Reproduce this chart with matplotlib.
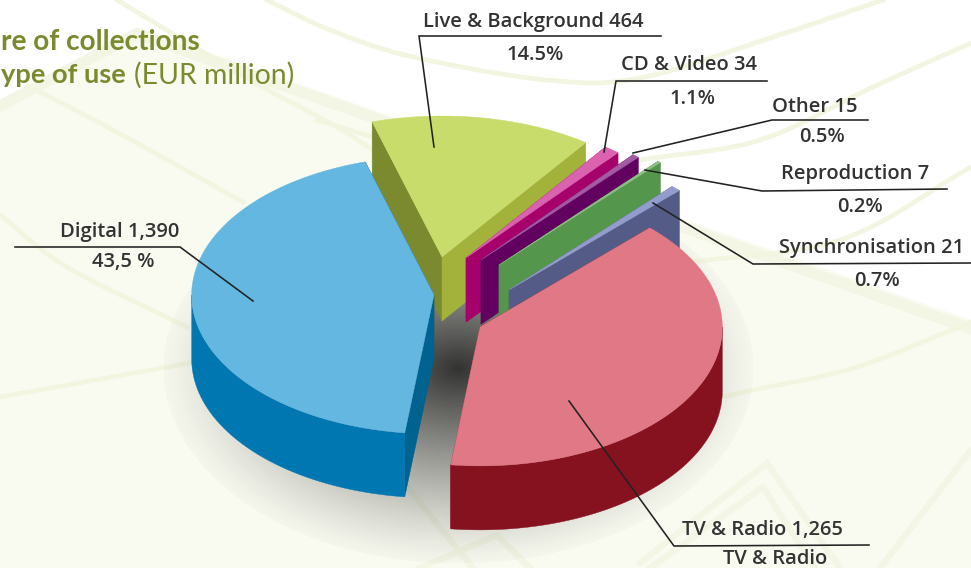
import numpy as np
import matplotlib
matplotlib.use("Agg")
import matplotlib.pyplot as plt
from matplotlib.patches import Polygon

# data
categories = ["Live & Background", "CD & Video", "Other", "Reproduction",
              "Synchronisation", "TV & Radio", "Digital"]
values = [464, 34, 15, 7, 21, 1265, 1390]
name_labels = ["Live & Background 464", "CD & Video 34", "Other 15", "Reproduction 7",
               "Synchronisation 21", "TV & Radio 1,265", "Digital 1,390"]
share_labels = ["14.5%", "1.1%", "0.5%", "0.2%", "0.7%", "TV & Radio", "43,5 %"]

# colours per slice: top, right cut / wall, left cut
top_colors = ["#C8DC6B", "#DB62AE", "#A35AA3", "#8FBF85", "#929DCD", "#E07985", "#63B7E1"]
side_colors = ["#A3B23B", "#A6006B", "#620060", "#54974C", "#535B86", "#86121F", "#0077B1"]
cut_colors = ["#7C8A2F", "#A6006B", "#620060", "#54974C", "#535B86", "#86121F", "#00628F"]

# layout, in pixels of the 971x568 picture
RX, RY, DEPTH = 246, 141, 64
START = -16.5
apex = [(442, 257), (466, 258), (481, 260), (499, 265), (509, 290), (480, 327), (434, 295)]
scale = [1, 0.97, 0.97, 0.98, 0.99, 0.985, 0.985]

# label: text x, name y, share x, share y, rule start, rule end, leader target
label_pos = [
    (533, 22.5, 535, 54.5, (661, 36), (419, 36), (434, 147)),
    (689, 65.5, 692, 98.5, (767, 81), (616, 81), (604, 152)),
    (815, 106.5, 822, 137.5, (868, 120), (772, 120), (633, 153)),
    (855, 174.5, 860, 206.5, (947, 189), (762, 191), (645, 170)),
    (872, 248.5, 877, 280.5, (971, 263), (753, 264), (653, 203)),
    (762, 530.5, 775, 559, (869, 545), (674, 546), (569, 401)),
    (120, 231.5, 123, 262.5, (15, 247), (180, 247), (253, 301)),
]

# pale background curves
curves = [
    [(267, 0), (330, 30), (413, 57), (547, 80), (640, 78), (773, 37), (883, 0)],
    [(117, 0), (250, 80), (330, 123), (373, 150)],
    [(317, 120), (373, 137)],
    [(28, 86), (113, 130), (243, 202)],
    [(0, 215), (67, 267), (187, 327)],
    [(0, 397), (190, 363)],
    [(722, 397), (753, 390), (857, 367), (971, 322)],
    [(640, 160), (760, 140), (873, 87), (971, 43)],
    [(683, 263), (840, 240), (971, 167)],
]
chevrons = [
    [(640, 563), (767, 463), (840, 568)],
    [(650, 568), (763, 487), (815, 568)],
    [(880, 568), (971, 450)],
    [(407, 487), (473, 568)],
    [(420, 568), (497, 535), (530, 568)],
]


def arc(i, a, b, n=120):
    t = np.radians(np.linspace(a, b, n))
    x = apex[i][0] + RX * scale[i] * np.sin(t)
    y = apex[i][1] - RY * scale[i] * np.cos(t)
    return np.column_stack([x, y])


def smooth(points, n=30):
    # catmull-rom through the given points
    pts = np.array(points, dtype=float)
    pts = np.vstack([2 * pts[0] - pts[1], pts, 2 * pts[-1] - pts[-2]])
    out = []
    for k in range(1, len(pts) - 2):
        p0, p1, p2, p3 = pts[k - 1], pts[k], pts[k + 1], pts[k + 2]
        for t in np.linspace(0, 1, n):
            out.append(0.5 * (2 * p1 + (p2 - p0) * t + (2 * p0 - 5 * p1 + 4 * p2 - p3) * t ** 2
                              + (3 * p1 - p0 - 3 * p2 + p3) * t ** 3))
    return np.array(out)


fig = plt.figure(figsize=(9.71, 5.68), dpi=100)
ax = fig.add_axes([0, 0, 1, 1])

# background polygon with its pale edge
ax.add_patch(Polygon([(0, 100), (137, 27), (971, 320), (971, 568), (0, 568)],
                     closed=True, fc="#F9FBF1", ec="none", zorder=0))
ax.plot([0, 137, 971], [106, 34, 329], color="#F3F6E4", lw=8, zorder=1, solid_joinstyle="miter")
for c in curves:
    p = smooth(c)
    ax.plot(p[:, 0], p[:, 1], color="#F2F6E0", lw=3.4, zorder=1)
for c in chevrons:
    p = np.array(c)
    ax.plot(p[:, 0], p[:, 1], color="#F3F6E4", lw=4.5, zorder=1, solid_joinstyle="miter")

# shadow under the pie
yy, xx = np.mgrid[0:568, 0:971]
d = np.sqrt(((xx - 458) / 295.0) ** 2 + ((yy - 368) / 195.0) ** 2)
alpha = np.where(d < 1, 0.87 * np.clip(1 - d, 0, 1) ** 1.2 + 0.02, 0)
shadow = np.zeros((568, 971, 4))
shadow[..., :3] = 0.1
shadow[..., 3] = alpha
ax.imshow(shadow, extent=(0, 971, 568, 0), aspect="auto", zorder=2, interpolation="bilinear")

# slice angles come from the values
sweeps = np.array(values) / np.sum(values) * 360
ends = START + np.cumsum(sweeps)
starts = ends - sweeps

z = 3
for i in range(len(values)):
    a, b = starts[i], ends[i]
    top = arc(i, a, b)
    ap = np.array(apex[i], dtype=float)
    down = np.array([0, DEPTH])
    # both radial cuts, the hidden ones end up under the top face
    ax.add_patch(Polygon([ap, top[0], top[0] + down, ap + down], closed=True,
                         fc=cut_colors[i], ec=cut_colors[i], lw=0.3, zorder=z))
    ax.add_patch(Polygon([ap, top[-1], top[-1] + down, ap + down], closed=True,
                         fc=side_colors[i] if i < 6 else cut_colors[i],
                         ec=side_colors[i] if i < 6 else cut_colors[i], lw=0.3, zorder=z))
    # outer wall, only the front half shows
    lo, hi = max(a, 90), min(b, 270)
    if hi > lo:
        wall = arc(i, lo, hi)
        ax.add_patch(Polygon(np.vstack([wall, (wall + down)[::-1]]), closed=True,
                             fc=side_colors[i], ec=side_colors[i], lw=0.3, zorder=z + 0.1))
    ax.add_patch(Polygon(np.vstack([ap, top]), closed=True,
                         fc=top_colors[i], ec=top_colors[i], lw=0.3, zorder=z + 0.2))
    z += 1

# labels and leader lines
font = {"family": "Open Sans", "weight": 600, "color": "#333333", "fontsize": 14.5,
        "ha": "center", "va": "center", "zorder": 20}
for i, (nx, ny, sx, sy, r0, r1, tip) in enumerate(label_pos):
    ax.text(nx, ny, name_labels[i], **font)
    ax.text(sx, sy, share_labels[i], **font)
    ax.plot([r0[0], r1[0], tip[0]], [r0[1], r1[1], tip[1]], color="#222222", lw=1.15,
            zorder=19, solid_joinstyle="miter")

# title, cut off by the left edge in the original
title_color = "#7A8B2F"
ax.text(200, 42, "re of collections", family="Lato", weight="bold", fontsize=20.2,
        color=title_color, ha="right", va="center", zorder=20)
ax.text(126, 75, "ype of use", family="Lato", weight="bold", fontsize=19.6,
        color=title_color, ha="right", va="center", zorder=20)
ax.text(134, 75, "(EUR million)", family="Lato", fontsize=20.4,
        color=title_color, ha="left", va="center", zorder=20)

ax.set_xlim(0, 971)
ax.set_ylim(568, 0)
ax.axis("off")
fig.savefig("out.png", dpi=100)
